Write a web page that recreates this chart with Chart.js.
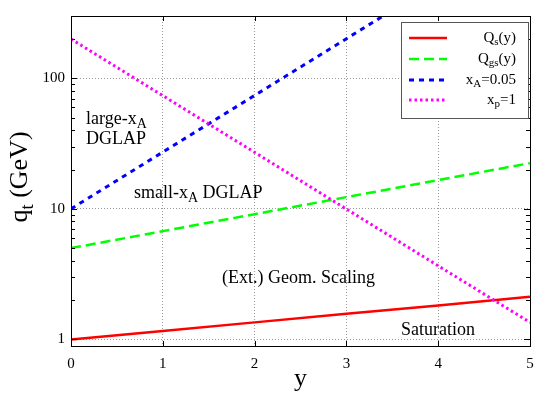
<!DOCTYPE html>
<html><head><meta charset="utf-8">
<script src="https://cdn.jsdelivr.net/npm/chart.js@4"></script>
<style>html,body{margin:0;padding:0;background:#fff}#wrap{width:554px;height:395px}</style>
</head><body><div id="wrap"><canvas id="c" width="554" height="395"></canvas></div>
<script>
// ---- data ----
const rapidity = [0, 1, 2, 3, 4, 5];
const qsValues = [1.00, 1.16, 1.35, 1.57, 1.82, 2.12];
const qgsValues = [5.0, 6.75, 9.1, 12.3, 16.6, 22.4];
const xaRapidity = [0, 1, 2, 3, 3.4];
const xaValues = [10, 27.2, 73.9, 201, 300];
const xpValues = [200, 73.6, 27.1, 9.96, 3.66, 1.35];
const xTicks = [0, 1, 2, 3, 4, 5];
const yTicks = [1, 10, 100];
const yMinor = [2,3,4,5,6,7,8,9,20,30,40,50,60,70,80,90,200,300];
const seriesLabels = ['Q|s|(y)', 'Q|gs|(y)', 'x|A|=0.05', 'x|p|=1'];

const SERIF = '"Liberation Serif","DejaVu Serif",serif';
const pts = (xs, ys) => xs.map((x, i) => ({x, y: ys[i]}));

const styles = [
  {color:'#ff0000', dash:[], width:2.5},
  {color:'#00ff00', dash:[10,5], width:2.5},
  {color:'#0000ff', dash:[5,5], width:3},
  {color:'#ff00ff', dash:[2.5,3], width:3}
];

function drawRich(ctx, str, x, y, size, align, ratio) {
  const parts = str.split('|');
  const subSize = Math.round(size * (ratio || 0.75));
  let w = 0;
  parts.forEach((p, i) => {
    ctx.font = (i % 2 ? subSize : size) + 'px ' + SERIF;
    w += ctx.measureText(p).width;
  });
  let cx = align === 'right' ? x - w : align === 'center' ? x - w / 2 : x;
  ctx.textAlign = 'left';
  ctx.textBaseline = 'alphabetic';
  parts.forEach((p, i) => {
    const sub = i % 2 === 1;
    ctx.font = (sub ? subSize : size) + 'px ' + SERIF;
    ctx.fillText(p, cx, sub ? y + size * 0.22 : y);
    cx += ctx.measureText(p).width;
  });
}

const decor = {
  id: 'decor',
  afterDraw(chart) {
    const ctx = chart.ctx;
    const a = chart.chartArea;
    const xs = chart.scales.x, ys = chart.scales.y;
    ctx.save();
    // ticks (inward, mirrored)
    ctx.strokeStyle = '#000'; ctx.lineWidth = 1;
    ctx.beginPath();
    yTicks.forEach(v => {
      const p = Math.round(ys.getPixelForValue(v)) + 0.5;
      ctx.moveTo(a.left, p); ctx.lineTo(a.left + 6, p);
      ctx.moveTo(a.right, p); ctx.lineTo(a.right - 6, p);
    });
    yMinor.forEach(v => {
      const p = Math.round(ys.getPixelForValue(v)) + 0.5;
      if (p < a.top) return;
      ctx.moveTo(a.left, p); ctx.lineTo(a.left + 4, p);
      ctx.moveTo(a.right, p); ctx.lineTo(a.right - 4, p);
    });
    xTicks.forEach(v => {
      const p = Math.round(xs.getPixelForValue(v)) + 0.5;
      ctx.moveTo(p, a.bottom); ctx.lineTo(p, a.bottom - 5);
      ctx.moveTo(p, a.top); ctx.lineTo(p, a.top + 5);
    });
    ctx.stroke();
    // frame
    ctx.strokeRect(Math.round(a.left) + 0.5, Math.round(a.top) + 0.5,
                   Math.round(a.right - a.left), Math.round(a.bottom - a.top));
    // legend
    const lx = 401, ly = 22, lw = 127, lh = 96;
    ctx.fillStyle = '#fff';
    ctx.fillRect(lx, ly, lw, lh);
    ctx.strokeStyle = '#555';
    ctx.strokeRect(lx + 0.5, ly + 0.5, lw, lh);
    const rows = [38, 59, 80, 100];
    rows.forEach((ry, i) => {
      const s = styles[i];
      ctx.strokeStyle = s.color; ctx.lineWidth = s.width;
      ctx.setLineDash(s.dash);
      ctx.beginPath(); ctx.moveTo(409, ry); ctx.lineTo(447, ry); ctx.stroke();
      ctx.setLineDash([]);
      ctx.fillStyle = '#000';
      drawRich(ctx, seriesLabels[i], 516, ry + 4, 15, 'right', 0.7);
    });
    // annotations
    ctx.fillStyle = '#000';
    drawRich(ctx, 'large-x|A|', 86, 124, 18, 'left', 0.78);
    drawRich(ctx, 'DGLAP', 86, 144, 18, 'left');
    drawRich(ctx, 'small-x|A| DGLAP', 134, 198, 18, 'left', 0.78);
    drawRich(ctx, '(Ext.) Geom. Scaling', 222, 283, 18, 'left');
    drawRich(ctx, 'Saturation', 401, 335, 18, 'left');
    // axis titles
    drawRich(ctx, 'y', (a.left + a.right) / 2, 386, 26, 'center');
    ctx.save();
    ctx.translate(27, 177);
    ctx.rotate(-Math.PI / 2);
    drawRich(ctx, 'q|t| (GeV)', 0, 0, 26, 'center', 0.72);
    ctx.restore();
    ctx.restore();
  }
};

new Chart(document.getElementById('c'), {
  type: 'line',
  data: {
    datasets: [
      {label: 'Qs(y)', data: pts(rapidity, qsValues)},
      {label: 'Qgs(y)', data: pts(rapidity, qgsValues)},
      {label: 'xA=0.05', data: pts(xaRapidity, xaValues)},
      {label: 'xp=1', data: pts(rapidity, xpValues)}
    ].map((d, i) => Object.assign(d, {
      borderColor: styles[i].color, borderWidth: styles[i].width,
      borderDash: styles[i].dash, pointRadius: 0, tension: 0, fill: false,
      order: 3 - i
    }))
  },
  options: {
    responsive: false, animation: false, devicePixelRatio: 1,
    layout: {padding: {top: 16, right: 24, left: 0, bottom: 0}},
    plugins: {legend: {display: false}, tooltip: {enabled: false}},
    scales: {
      x: {
        type: 'linear', min: 0, max: 5,
        afterBuildTicks: s => { s.ticks = xTicks.map(v => ({value: v})); },
        afterFit: s => { s.height = 49; },
        grid: {color: '#999', lineWidth: 1, drawTicks: false},
        border: {display: false, dash: [1, 2]},
        ticks: {color: '#000', font: {family: SERIF, size: 15}, padding: 9, maxRotation: 0}
      },
      y: {
        type: 'logarithmic', min: 0.89, max: 300,
        afterBuildTicks: s => { s.ticks = yTicks.map(v => ({value: v})); },
        afterFit: s => { s.width = 71; },
        grid: {color: '#999', lineWidth: 1, drawTicks: false},
        border: {display: false, dash: [1, 2]},
        ticks: {color: '#000', font: {family: SERIF, size: 15}, padding: 6,
                callback: v => String(v)}
      }
    }
  },
  plugins: [decor]
});
</script></body></html>
